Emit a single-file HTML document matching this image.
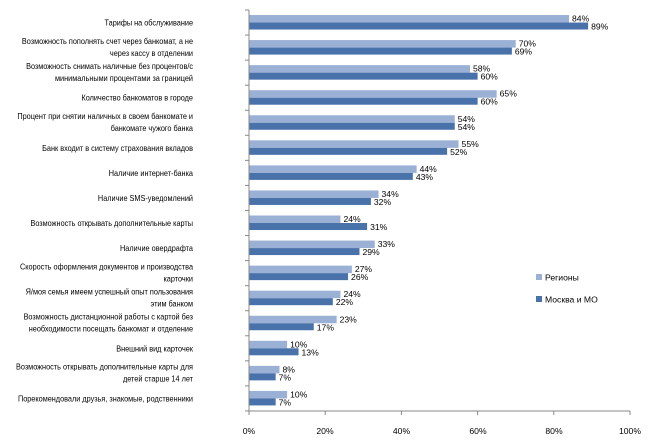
<!DOCTYPE html><html><head><meta charset="utf-8"><style>body{margin:0;background:#fff}svg{display:block}text{font-family:"Liberation Sans","DejaVu Sans",sans-serif;font-size:8.6px;fill:#000}</style></head><body>
<svg id="s" width="650" height="443" viewBox="0 0 650 443">
<g text-anchor="end" id="lab" transform="translate(193,0) scale(0.85,1) translate(-193,0)">
<text x="193" y="25.5">Тарифы на обслуживание</text>
<text x="193" y="44">Возможность пополнять счет через банкомат, а не</text><text x="193" y="56">через кассу в отделении</text>
<text x="193" y="69">Возможность снимать наличные без процентов/с</text><text x="193" y="81">минимальными процентами за границей</text>
<text x="193" y="100.7">Количество банкоматов в городе</text>
<text x="193" y="119">Процент при снятии наличных в своем банкомате и</text><text x="193" y="131">банкомате чужого банка</text>
<text x="193" y="150.8">Банк входит в систему страхования вкладов</text>
<text x="193" y="175.9">Наличие интернет-банка</text>
<text x="193" y="200.9">Наличие SMS-уведомлений</text>
<text x="193" y="226">Возможность открывать дополнительные карты</text>
<text x="193" y="251.1">Наличие овердрафта</text>
<text x="193" y="269.5">Скорость оформления документов и производства</text><text x="193" y="281.5">карточки</text>
<text x="193" y="294.5">Я/моя семья имеем успешный опыт пользования</text><text x="193" y="306.5">этим банком</text>
<text x="193" y="319.5">Возможность дистанционной работы с картой без</text><text x="193" y="331.5">необходимости посещать банкомат и отделение</text>
<text x="193" y="351.3">Внешний вид карточек</text>
<text x="193" y="369.5">Возможность открывать дополнительные карты для</text><text x="193" y="381.5">детей старше 14 лет</text>
<text x="193" y="401.5">Порекомендовали друзья, знакомые, родственники</text>
</g>
<g id="bars"></g>
<line x1="249" y1="10" x2="249" y2="411" stroke="#888" stroke-width="1"/>
<line x1="249" y1="411" x2="630" y2="411" stroke="#888" stroke-width="1"/>
<g id="ticks" stroke="#888"></g>
<g text-anchor="middle">
<text x="249" y="434">0%</text><text x="325" y="434">20%</text><text x="401.5" y="434">40%</text><text x="478" y="434">60%</text><text x="554" y="434">80%</text><text x="630" y="434">100%</text>
</g>
<rect x="536" y="274" width="6" height="6" fill="#9BB0D5"/><text x="545" y="280.5">Регионы</text>
<rect x="536" y="296" width="6" height="6" fill="#4A72AA"/><text x="545" y="302.5">Москва и МО</text>
</svg>
<script>
var R=[84,70,58,65,54,55,44,34,24,33,27,24,23,10,8,10],M=[89,69,60,60,54,52,43,32,31,29,26,22,17,13,7,7];
var g=document.getElementById('bars'),t=document.getElementById('ticks'),h='';
for(var i=0;i<16;i++){var c=10+25.06*(i+0.5);var wr=R[i]*3.81,wm=M[i]*3.81;
h+='<rect x="249" y="'+(c-7.5)+'" width="'+wr+'" height="7.5" fill="#9BB0D5"/>';
h+='<rect x="249" y="'+c+'" width="'+wm+'" height="7" fill="#4A72AA"/>';
h+='<text x="'+(252+wr)+'" y="'+(c-1)+'">'+R[i]+'%</text>';
h+='<text x="'+(252+wm)+'" y="'+(c+7)+'">'+M[i]+'%</text>';}
g.innerHTML=h;var k='';
for(var i=0;i<=16;i++){var y=10+25.06*i;k+='<line x1="245" y1="'+y+'" x2="249" y2="'+y+'"/>';}
for(var j=0;j<=5;j++){var x=249+76.2*j;k+='<line x1="'+x+'" y1="411" x2="'+x+'" y2="415"/>';}
t.innerHTML=k;
</script>
</body></html>
